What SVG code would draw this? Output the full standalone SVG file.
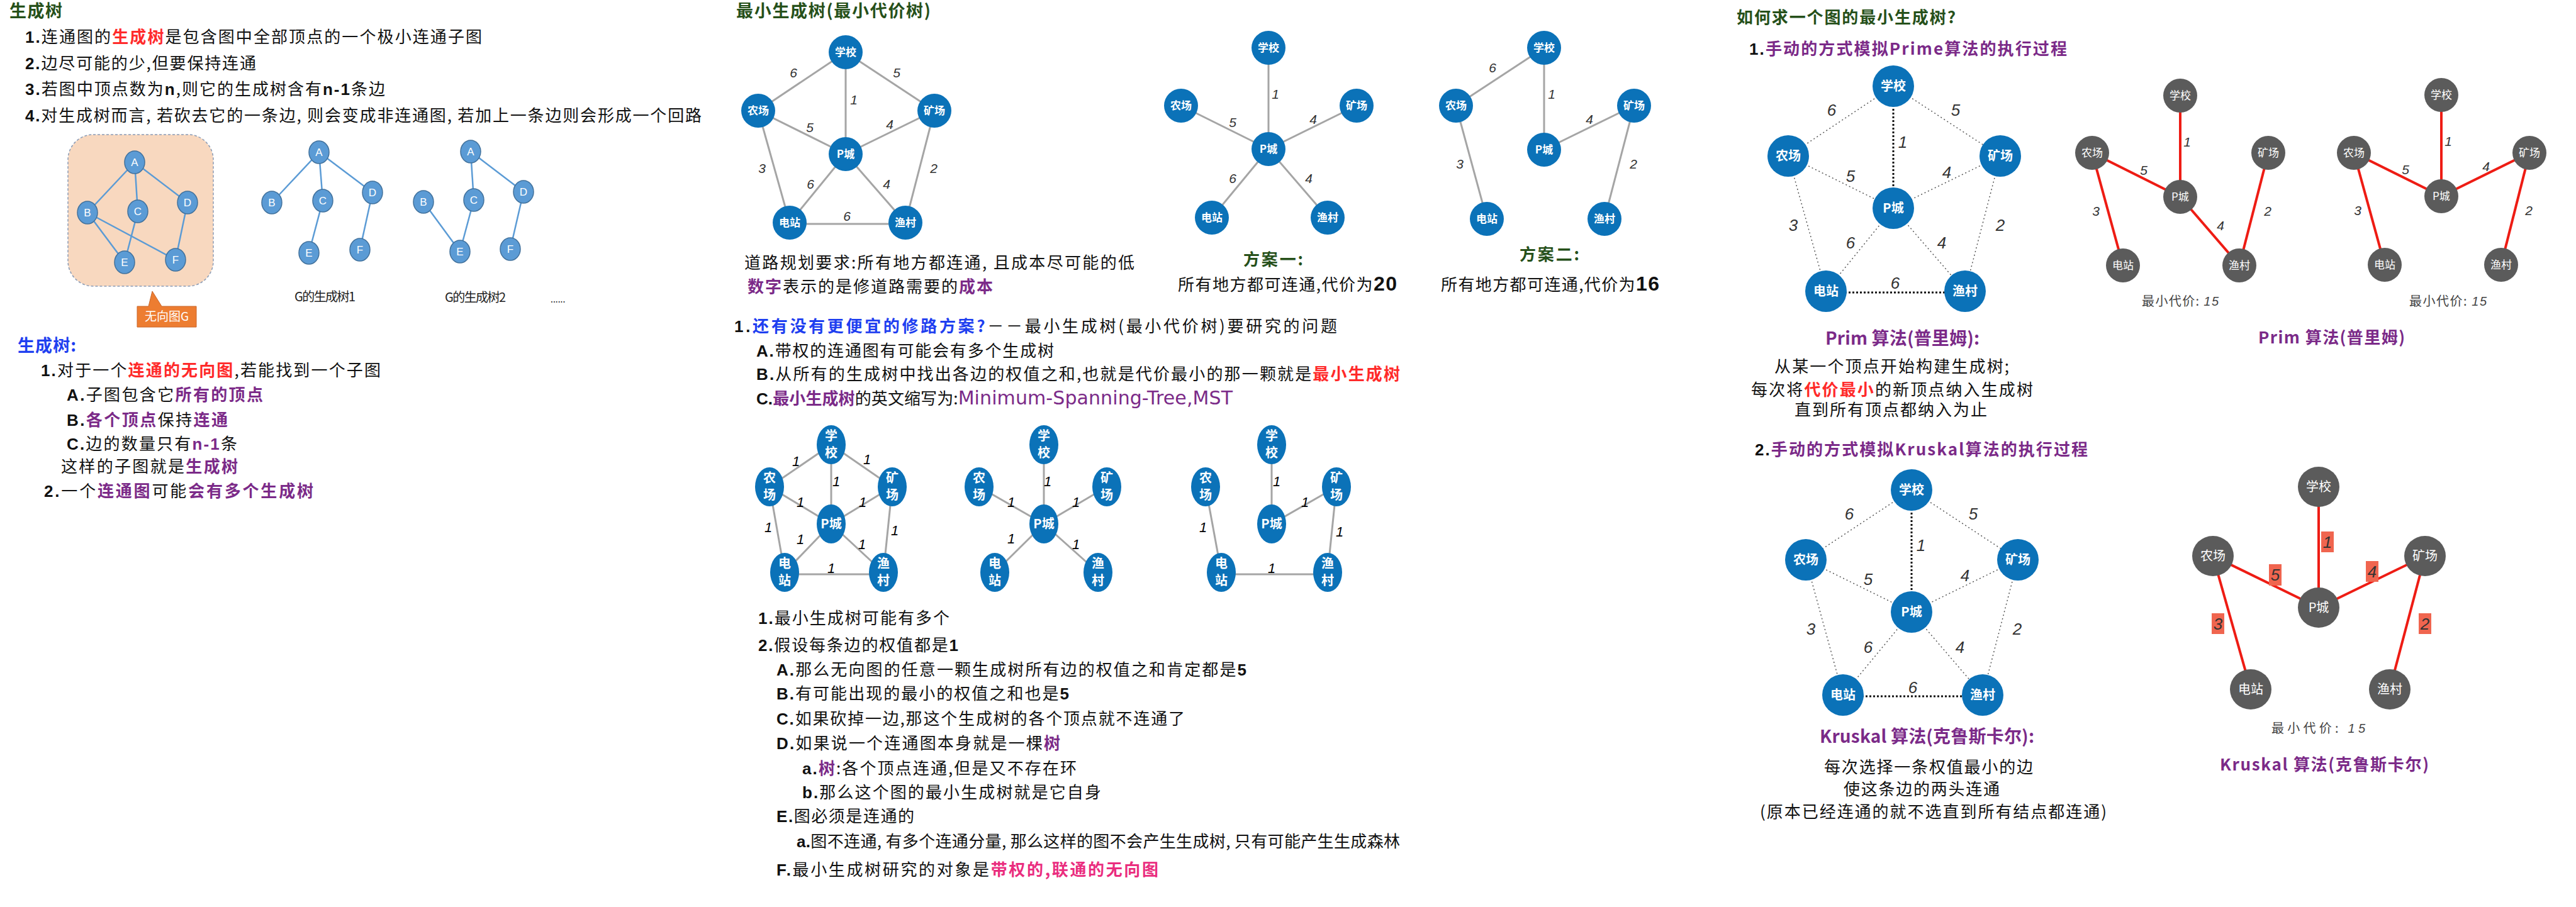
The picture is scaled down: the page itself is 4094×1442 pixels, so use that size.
<svg xmlns="http://www.w3.org/2000/svg" width="4094" height="1442" viewBox="0 0 4094 1442">
<style>
text{font-family:"Noto Sans CJK SC","Noto Sans",sans-serif}
.ln ellipse{fill:#5b9bd5;stroke:#41719c;stroke-width:1.5}
.ln text{fill:#fff;font-family:"Liberation Sans",sans-serif;font-size:17px;text-anchor:middle}
.le{stroke:#5b9bd5;stroke-width:2.5}
.bn circle,.bn ellipse{fill:#0b72b8}
.bn text{fill:#fff;font-weight:bold;text-anchor:middle;font-size:17px}
.bb text{font-size:20px}
.gn circle,.gn ellipse{fill:#5b5b5b}
.gn text{fill:#fff;text-anchor:middle;font-size:17px}
.gb text{font-size:20px}
.vn text{font-size:20px}
.ge{stroke:#a5a5a5;stroke-width:3}
.re{stroke:#ee1c14;stroke-width:4}
.de{stroke:#555;stroke-width:1.5;stroke-dasharray:2 4}
.dk{stroke:#111;stroke-width:3;stroke-dasharray:3 3}
.w{font-family:"Liberation Sans",sans-serif;font-style:italic;fill:#333;text-anchor:middle;font-size:21px}
.wl{font-size:26px}
.w1{fill:#000;font-size:22px}
.t{fill:#111;font-size:26px}
.gt{fill:#26501a;font-weight:bold}
.pu{fill:#7b2a88}
.rd{fill:#ff2a2a}
.bl{fill:#1f3ff0}
.pk{fill:#ea2d7e}
.n{font-family:"Liberation Sans",sans-serif;font-weight:bold}
.box{fill:#f0654f}
.cap{fill:#444;font-size:20px}
</style>

<!-- ================= LEFT ================= -->
<text class="gt" x="15" y="27" font-size="27" textLength="84">生成树</text>
<text class="t" x="40" y="68" font-size="29" textLength="726"><tspan class="n">1.</tspan>连通图的<tspan class="rd" font-weight="bold">生成树</tspan>是包含图中全部顶点的一个极小连通子图</text>
<text class="t" x="40" y="110" font-size="29" textLength="367"><tspan class="n">2.</tspan>边尽可能的少,但要保持连通</text>
<text class="t" x="40" y="151" font-size="29" textLength="572"><tspan class="n">3.</tspan>若图中顶点数为<tspan class="n">n</tspan>,则它的生成树含有<tspan class="n">n-1</tspan>条边</text>
<text class="t" x="40" y="193" font-size="29" textLength="1075"><tspan class="n">4.</tspan>对生成树而言, 若砍去它的一条边, 则会变成非连通图, 若加上一条边则会形成一个回路</text>

<rect x="108" y="214" width="231" height="241" rx="40" fill="#f8d8bf" stroke="#8a9bb5" stroke-width="1.5" stroke-dasharray="4 3"/>
<g id="callout-G">
<path d="M218,487 H236 L242,463 L257,487 H312 V520 H218 Z" fill="#ed7d31" stroke="#c9662a" stroke-width="1"/>
<text x="265" y="510" font-size="19" fill="#fff" text-anchor="middle">无向图G</text>
</g>

<g id="connectors-left">
<line class="le" x1="214" y1="258" x2="139" y2="338"/>
<line class="le" x1="214" y1="258" x2="219" y2="336"/>
<line class="le" x1="214" y1="258" x2="298" y2="322"/>
<line class="le" x1="139" y1="338" x2="198" y2="417"/>
<line class="le" x1="139" y1="338" x2="279" y2="413"/>
<line class="le" x1="219" y1="336" x2="198" y2="417"/>
<line class="le" x1="298" y1="322" x2="279" y2="413"/>
<line class="le" x1="507" y1="242" x2="432" y2="322"/>
<line class="le" x1="507" y1="242" x2="513" y2="319"/>
<line class="le" x1="507" y1="242" x2="592" y2="306"/>
<line class="le" x1="513" y1="319" x2="491" y2="402"/>
<line class="le" x1="592" y1="306" x2="572" y2="397"/>
<line class="le" x1="748" y1="241" x2="753" y2="318"/>
<line class="le" x1="748" y1="241" x2="832" y2="305"/>
<line class="le" x1="673" y1="321" x2="731" y2="400"/>
<line class="le" x1="753" y1="318" x2="731" y2="400"/>
<line class="le" x1="832" y1="305" x2="811" y2="396"/>
</g>
<g id="g-A" class="ln"><ellipse cx="214" cy="258" rx="16" ry="18"/><text x="214" y="264">A</text></g>
<g id="g-B" class="ln"><ellipse cx="139" cy="338" rx="16" ry="18"/><text x="139" y="344">B</text></g>
<g id="g-C" class="ln"><ellipse cx="219" cy="336" rx="16" ry="18"/><text x="219" y="342">C</text></g>
<g id="g-D" class="ln"><ellipse cx="298" cy="322" rx="16" ry="18"/><text x="298" y="328">D</text></g>
<g id="g-E" class="ln"><ellipse cx="198" cy="417" rx="16" ry="18"/><text x="198" y="423">E</text></g>
<g id="g-F" class="ln"><ellipse cx="279" cy="413" rx="16" ry="18"/><text x="279" y="419">F</text></g>
<g id="t1-A" class="ln"><ellipse cx="507" cy="242" rx="16" ry="18"/><text x="507" y="248">A</text></g>
<g id="t1-B" class="ln"><ellipse cx="432" cy="322" rx="16" ry="18"/><text x="432" y="328">B</text></g>
<g id="t1-C" class="ln"><ellipse cx="513" cy="319" rx="16" ry="18"/><text x="513" y="325">C</text></g>
<g id="t1-D" class="ln"><ellipse cx="592" cy="306" rx="16" ry="18"/><text x="592" y="312">D</text></g>
<g id="t1-E" class="ln"><ellipse cx="491" cy="402" rx="16" ry="18"/><text x="491" y="408">E</text></g>
<g id="t1-F" class="ln"><ellipse cx="572" cy="397" rx="16" ry="18"/><text x="572" y="403">F</text></g>
<g id="t2-A" class="ln"><ellipse cx="748" cy="241" rx="16" ry="18"/><text x="748" y="247">A</text></g>
<g id="t2-B" class="ln"><ellipse cx="673" cy="321" rx="16" ry="18"/><text x="673" y="327">B</text></g>
<g id="t2-C" class="ln"><ellipse cx="753" cy="318" rx="16" ry="18"/><text x="753" y="324">C</text></g>
<g id="t2-D" class="ln"><ellipse cx="832" cy="305" rx="16" ry="18"/><text x="832" y="311">D</text></g>
<g id="t2-E" class="ln"><ellipse cx="731" cy="400" rx="16" ry="18"/><text x="731" y="406">E</text></g>
<g id="t2-F" class="ln"><ellipse cx="811" cy="396" rx="16" ry="18"/><text x="811" y="402">F</text></g>
<text x="468" y="479" font-size="20" fill="#222" textLength="97">G的生成树1</text>
<text x="707" y="480" font-size="20" fill="#222" textLength="97">G的生成树2</text>
<text x="875" y="481" font-size="14" fill="#222">......</text>

<text class="bl" x="28" y="559" font-size="27" font-weight="bold" textLength="93">生成树:</text>
<text class="t" x="65" y="598" font-size="27" textLength="540"><tspan class="n">1.</tspan>对于一个<tspan class="rd" font-weight="bold">连通的无向图</tspan>,若能找到一个子图</text>
<text class="t" x="106" y="637" font-size="27" textLength="312"><tspan class="n">A.</tspan>子图包含它<tspan class="pu" font-weight="bold">所有的顶点</tspan></text>
<text class="t" x="106" y="677" font-size="27" textLength="256"><tspan class="n">B.</tspan><tspan class="pu" font-weight="bold">各个顶点</tspan>保持<tspan class="pu" font-weight="bold">连通</tspan></text>
<text class="t" x="106" y="715" font-size="27" textLength="271"><tspan class="n">C.</tspan>边的数量只有<tspan class="n pu">n-1</tspan>条</text>
<text class="t" x="97" y="751" font-size="27" textLength="281">这样的子图就是<tspan class="pu" font-weight="bold">生成树</tspan></text>
<text class="t" x="70" y="790" font-size="27" textLength="428"><tspan class="n">2.</tspan>一个<tspan class="pu" font-weight="bold">连通图</tspan>可能<tspan class="pu" font-weight="bold">会有多个生成树</tspan></text>

<!-- ================= MIDDLE ================= -->
<text class="gt" x="1170" y="27" font-size="27" textLength="309">最小生成树(最小代价树)</text>

<g id="connectors-mid">
<line class="ge" x1="1344" y1="83" x2="1205" y2="176"/>
<line class="ge" x1="1344" y1="83" x2="1485" y2="176"/>
<line class="ge" x1="1344" y1="83" x2="1344" y2="245"/>
<line class="ge" x1="1205" y1="176" x2="1344" y2="245"/>
<line class="ge" x1="1485" y1="176" x2="1344" y2="245"/>
<line class="ge" x1="1205" y1="176" x2="1255" y2="354"/>
<line class="ge" x1="1485" y1="176" x2="1439" y2="354"/>
<line class="ge" x1="1344" y1="245" x2="1255" y2="354"/>
<line class="ge" x1="1344" y1="245" x2="1439" y2="354"/>
<line class="ge" x1="1255" y1="356" x2="1439" y2="356"/>
<line class="ge" x1="2016" y1="76" x2="2016" y2="237"/>
<line class="ge" x1="1877" y1="168" x2="2016" y2="237"/>
<line class="ge" x1="2156" y1="168" x2="2016" y2="237"/>
<line class="ge" x1="2016" y1="237" x2="1926" y2="346"/>
<line class="ge" x1="2016" y1="237" x2="2110" y2="346"/>
<line class="ge" x1="2454" y1="76" x2="2314" y2="168"/>
<line class="ge" x1="2454" y1="76" x2="2454" y2="238"/>
<line class="ge" x1="2597" y1="168" x2="2454" y2="238"/>
<line class="ge" x1="2314" y1="168" x2="2363" y2="348"/>
<line class="ge" x1="2597" y1="168" x2="2550" y2="348"/>
<line class="ge" x1="1321" y1="707" x2="1223" y2="774"/>
<line class="ge" x1="1321" y1="707" x2="1418" y2="774"/>
<line class="ge" x1="1321" y1="707" x2="1321" y2="833"/>
<line class="ge" x1="1223" y1="774" x2="1321" y2="833"/>
<line class="ge" x1="1418" y1="774" x2="1321" y2="833"/>
<line class="ge" x1="1223" y1="774" x2="1247" y2="910"/>
<line class="ge" x1="1418" y1="774" x2="1404" y2="910"/>
<line class="ge" x1="1321" y1="833" x2="1247" y2="910"/>
<line class="ge" x1="1321" y1="833" x2="1404" y2="910"/>
<line class="ge" x1="1247" y1="913" x2="1404" y2="913"/>
<line class="ge" x1="1659" y1="707" x2="1659" y2="833"/>
<line class="ge" x1="1556" y1="774" x2="1659" y2="833"/>
<line class="ge" x1="1759" y1="774" x2="1659" y2="833"/>
<line class="ge" x1="1659" y1="833" x2="1581" y2="910"/>
<line class="ge" x1="1659" y1="833" x2="1745" y2="910"/>
<line class="ge" x1="2021" y1="707" x2="2021" y2="833"/>
<line class="ge" x1="2124" y1="774" x2="2021" y2="833"/>
<line class="ge" x1="1916" y1="774" x2="1941" y2="910"/>
<line class="ge" x1="2124" y1="774" x2="2110" y2="910"/>
<line class="ge" x1="1941" y1="913" x2="2110" y2="913"/>
</g>

<g id="m1-xuexiao" class="bn"><circle cx="1344" cy="83" r="27"/><text x="1344" y="89">学校</text></g>
<g id="m1-nongchang" class="bn"><circle cx="1205" cy="176" r="27"/><text x="1205" y="182">农场</text></g>
<g id="m1-kuangchang" class="bn"><circle cx="1485" cy="176" r="27"/><text x="1485" y="182">矿场</text></g>
<g id="m1-pcheng" class="bn"><circle cx="1344" cy="245" r="27"/><text x="1344" y="251">P城</text></g>
<g id="m1-dianzhan" class="bn"><circle cx="1255" cy="354" r="27"/><text x="1255" y="360">电站</text></g>
<g id="m1-yucun" class="bn"><circle cx="1439" cy="354" r="27"/><text x="1439" y="360">渔村</text></g>
<text class="w" x="1261" y="123">6</text>
<text class="w" x="1425" y="123">5</text>
<text class="w" x="1357" y="166">1</text>
<text class="w" x="1287" y="210">5</text>
<text class="w" x="1414" y="205">4</text>
<text class="w" x="1211" y="275">3</text>
<text class="w" x="1484" y="275">2</text>
<text class="w" x="1288" y="300">6</text>
<text class="w" x="1409" y="300">4</text>
<text class="w" x="1346" y="351">6</text>
<text class="t" x="1183" y="427" textLength="620">道路规划要求:所有地方都连通, 且成本尽可能的低</text>
<text class="t" x="1188" y="465" textLength="390"><tspan class="pu" font-weight="bold">数字</tspan>表示的是修道路需要的<tspan class="pu" font-weight="bold">成本</tspan></text>

<g id="p1-xuexiao" class="bn"><circle cx="2016" cy="76" r="27"/><text x="2016" y="82">学校</text></g>
<g id="p1-nongchang" class="bn"><circle cx="1877" cy="168" r="27"/><text x="1877" y="174">农场</text></g>
<g id="p1-kuangchang" class="bn"><circle cx="2156" cy="168" r="27"/><text x="2156" y="174">矿场</text></g>
<g id="p1-pcheng" class="bn"><circle cx="2016" cy="237" r="27"/><text x="2016" y="243">P城</text></g>
<g id="p1-dianzhan" class="bn"><circle cx="1926" cy="346" r="27"/><text x="1926" y="352">电站</text></g>
<g id="p1-yucun" class="bn"><circle cx="2110" cy="346" r="27"/><text x="2110" y="352">渔村</text></g>
<text class="w" x="2027" y="157">1</text>
<text class="w" x="1959" y="202">5</text>
<text class="w" x="2087" y="197">4</text>
<text class="w" x="1959" y="291">6</text>
<text class="w" x="2080" y="291">4</text>
<text class="gt" x="1976" y="422" font-size="26" textLength="95">方案一:</text>
<text class="t" x="1872" y="462" textLength="348">所有地方都可连通,代价为<tspan class="n" font-size="32">20</tspan></text>

<g id="p2-xuexiao" class="bn"><circle cx="2454" cy="76" r="27"/><text x="2454" y="82">学校</text></g>
<g id="p2-nongchang" class="bn"><circle cx="2314" cy="168" r="27"/><text x="2314" y="174">农场</text></g>
<g id="p2-kuangchang" class="bn"><circle cx="2597" cy="168" r="27"/><text x="2597" y="174">矿场</text></g>
<g id="p2-pcheng" class="bn"><circle cx="2454" cy="238" r="27"/><text x="2454" y="244">P城</text></g>
<g id="p2-dianzhan" class="bn"><circle cx="2363" cy="348" r="27"/><text x="2363" y="354">电站</text></g>
<g id="p2-yucun" class="bn"><circle cx="2550" cy="348" r="27"/><text x="2550" y="354">渔村</text></g>
<text class="w" x="2372" y="115">6</text>
<text class="w" x="2466" y="157">1</text>
<text class="w" x="2526" y="197">4</text>
<text class="w" x="2320" y="268">3</text>
<text class="w" x="2596" y="268">2</text>
<text class="gt" x="2415" y="414" font-size="26" textLength="95">方案二:</text>
<text class="t" x="2290" y="462" textLength="347">所有地方都可连通,代价为<tspan class="n" font-size="32">16</tspan></text>

<text class="t" x="1167" y="528" textLength="958"><tspan class="n">1.</tspan><tspan class="bl" font-weight="bold">还有没有更便宜的修路方案?</tspan>－－最小生成树(最小代价树)要研究的问题</text>
<text class="t" x="1202" y="567" textLength="473"><tspan class="n">A.</tspan>带权的连通图有可能会有多个生成树</text>
<text class="t" x="1202" y="604" textLength="1023"><tspan class="n">B.</tspan>从所有的生成树中找出各边的权值之和,也就是代价最小的那一颗就是<tspan class="rd" font-weight="bold">最小生成树</tspan></text>
<text class="t" x="1202" y="643" textLength="757"><tspan class="n">C.</tspan><tspan class="pu" font-weight="bold">最小生成树</tspan>的英文缩写为:<tspan class="pu" font-family="DejaVu Sans" font-size="30">Minimum-Spanning-Tree,MST</tspan></text>

<g id="a-xuexiao" class="bn vn"><ellipse cx="1321" cy="707" rx="23" ry="31"/><text x="1321" y="700">学<tspan x="1321" dy="27">校</tspan></text></g>
<g id="a-nongchang" class="bn vn"><ellipse cx="1223" cy="774" rx="23" ry="31"/><text x="1223" y="767">农<tspan x="1223" dy="27">场</tspan></text></g>
<g id="a-kuangchang" class="bn vn"><ellipse cx="1418" cy="774" rx="23" ry="31"/><text x="1418" y="767">矿<tspan x="1418" dy="27">场</tspan></text></g>
<g id="a-pcheng" class="bn vn"><ellipse cx="1321" cy="833" rx="23" ry="31"/><text x="1321" y="840">P城</text></g>
<g id="a-dianzhan" class="bn vn"><ellipse cx="1247" cy="910" rx="23" ry="31"/><text x="1247" y="903">电<tspan x="1247" dy="27">站</tspan></text></g>
<g id="a-yucun" class="bn vn"><ellipse cx="1404" cy="910" rx="23" ry="31"/><text x="1404" y="903">渔<tspan x="1404" dy="27">村</tspan></text></g>
<text class="w w1" x="1265" y="741">1</text>
<text class="w w1" x="1378" y="738">1</text>
<text class="w w1" x="1329" y="773">1</text>
<text class="w w1" x="1272" y="806">1</text>
<text class="w w1" x="1371" y="806">1</text>
<text class="w w1" x="1221" y="846">1</text>
<text class="w w1" x="1422" y="851">1</text>
<text class="w w1" x="1272" y="865">1</text>
<text class="w w1" x="1370" y="873">1</text>
<text class="w w1" x="1321" y="911">1</text>

<g id="b-xuexiao" class="bn vn"><ellipse cx="1659" cy="707" rx="23" ry="31"/><text x="1659" y="700">学<tspan x="1659" dy="27">校</tspan></text></g>
<g id="b-nongchang" class="bn vn"><ellipse cx="1556" cy="774" rx="23" ry="31"/><text x="1556" y="767">农<tspan x="1556" dy="27">场</tspan></text></g>
<g id="b-kuangchang" class="bn vn"><ellipse cx="1759" cy="774" rx="23" ry="31"/><text x="1759" y="767">矿<tspan x="1759" dy="27">场</tspan></text></g>
<g id="b-pcheng" class="bn vn"><ellipse cx="1659" cy="833" rx="23" ry="31"/><text x="1659" y="840">P城</text></g>
<g id="b-dianzhan" class="bn vn"><ellipse cx="1581" cy="910" rx="23" ry="31"/><text x="1581" y="903">电<tspan x="1581" dy="27">站</tspan></text></g>
<g id="b-yucun" class="bn vn"><ellipse cx="1745" cy="910" rx="23" ry="31"/><text x="1745" y="903">渔<tspan x="1745" dy="27">村</tspan></text></g>
<text class="w w1" x="1665" y="773">1</text>
<text class="w w1" x="1607" y="806">1</text>
<text class="w w1" x="1710" y="806">1</text>
<text class="w w1" x="1607" y="864">1</text>
<text class="w w1" x="1710" y="873">1</text>

<g id="c-xuexiao" class="bn vn"><ellipse cx="2021" cy="707" rx="23" ry="31"/><text x="2021" y="700">学<tspan x="2021" dy="27">校</tspan></text></g>
<g id="c-nongchang" class="bn vn"><ellipse cx="1916" cy="774" rx="23" ry="31"/><text x="1916" y="767">农<tspan x="1916" dy="27">场</tspan></text></g>
<g id="c-kuangchang" class="bn vn"><ellipse cx="2124" cy="774" rx="23" ry="31"/><text x="2124" y="767">矿<tspan x="2124" dy="27">场</tspan></text></g>
<g id="c-pcheng" class="bn vn"><ellipse cx="2021" cy="833" rx="23" ry="31"/><text x="2021" y="840">P城</text></g>
<g id="c-dianzhan" class="bn vn"><ellipse cx="1941" cy="910" rx="23" ry="31"/><text x="1941" y="903">电<tspan x="1941" dy="27">站</tspan></text></g>
<g id="c-yucun" class="bn vn"><ellipse cx="2110" cy="910" rx="23" ry="31"/><text x="2110" y="903">渔<tspan x="2110" dy="27">村</tspan></text></g>
<text class="w w1" x="2029" y="773">1</text>
<text class="w w1" x="2074" y="806">1</text>
<text class="w w1" x="1912" y="846">1</text>
<text class="w w1" x="2129" y="853">1</text>
<text class="w w1" x="2021" y="911">1</text>

<text class="t" x="1205" y="992" textLength="304"><tspan class="n">1.</tspan>最小生成树可能有多个</text>
<text class="t" x="1205" y="1035" textLength="318"><tspan class="n">2.</tspan>假设每条边的权值都是<tspan class="n">1</tspan></text>
<text class="t" x="1234" y="1074" textLength="747"><tspan class="n">A.</tspan>那么无向图的任意一颗生成树所有边的权值之和肯定都是<tspan class="n">5</tspan></text>
<text class="t" x="1234" y="1112" textLength="465"><tspan class="n">B.</tspan>有可能出现的最小的权值之和也是<tspan class="n">5</tspan></text>
<text class="t" x="1234" y="1152" textLength="649"><tspan class="n">C.</tspan>如果砍掉一边,那这个生成树的各个顶点就不连通了</text>
<text class="t" x="1234" y="1191" textLength="451"><tspan class="n">D.</tspan>如果说一个连通图本身就是一棵<tspan class="pu" font-weight="bold">树</tspan></text>
<text class="t" x="1275" y="1231" textLength="436"><tspan class="n">a.</tspan><tspan class="pu" font-weight="bold">树</tspan>:各个顶点连通,但是又不存在环</text>
<text class="t" x="1275" y="1269" textLength="475"><tspan class="n">b.</tspan>那么这个图的最小生成树就是它自身</text>
<text class="t" x="1234" y="1307" textLength="219"><tspan class="n">E.</tspan>图必须是连通的</text>
<text class="t" x="1266" y="1347" textLength="959"><tspan class="n">a.</tspan>图不连通, 有多个连通分量, 那么这样的图不会产生生成树, 只有可能产生生成森林</text>
<text class="t" x="1234" y="1392" textLength="607"><tspan class="n">F.</tspan>最小生成树研究的对象是<tspan class="pk" font-weight="bold">带权的,联通的无向图</tspan></text>

<!-- ================= RIGHT ================= -->
<text class="gt" x="2760" y="37" font-size="26" textLength="348">如何求一个图的最小生成树?</text>
<text class="pu" x="2780" y="87" font-size="26" font-weight="bold" textLength="505"><tspan class="n" fill="#111">1.</tspan>手动的方式模拟Prime算法的执行过程</text>

<g id="connectors-right">
<line class="de" x1="3009" y1="137" x2="2842" y2="248"/>
<line class="de" x1="3009" y1="137" x2="3179" y2="248"/>
<line class="dk" x1="3009" y1="137" x2="3009" y2="331"/>
<line class="de" x1="2842" y1="248" x2="3009" y2="331"/>
<line class="de" x1="3179" y1="248" x2="3009" y2="331"/>
<line class="de" x1="2842" y1="248" x2="2902" y2="463"/>
<line class="de" x1="3179" y1="248" x2="3123" y2="463"/>
<line class="de" x1="3009" y1="331" x2="2902" y2="463"/>
<line class="de" x1="3009" y1="331" x2="3123" y2="463"/>
<line class="dk" x1="2902" y1="465" x2="3123" y2="465"/>
<line class="re" x1="3465" y1="152" x2="3465" y2="313"/>
<line class="re" x1="3325" y1="243" x2="3465" y2="313"/>
<line class="re" x1="3325" y1="243" x2="3374" y2="422"/>
<line class="re" x1="3465" y1="313" x2="3559" y2="422"/>
<line class="re" x1="3605" y1="243" x2="3559" y2="422"/>
<line class="re" x1="3880" y1="151" x2="3880" y2="312"/>
<line class="re" x1="3741" y1="243" x2="3880" y2="312"/>
<line class="re" x1="4020" y1="243" x2="3880" y2="312"/>
<line class="re" x1="3741" y1="243" x2="3790" y2="421"/>
<line class="re" x1="4020" y1="243" x2="3975" y2="421"/>
<line class="de" x1="3038" y1="779" x2="2870" y2="890"/>
<line class="de" x1="3038" y1="779" x2="3207" y2="890"/>
<line class="dk" x1="3038" y1="779" x2="3038" y2="973"/>
<line class="de" x1="2870" y1="890" x2="3038" y2="973"/>
<line class="de" x1="3207" y1="890" x2="3038" y2="973"/>
<line class="de" x1="2870" y1="890" x2="2929" y2="1105"/>
<line class="de" x1="3207" y1="890" x2="3151" y2="1105"/>
<line class="de" x1="3038" y1="973" x2="2929" y2="1105"/>
<line class="de" x1="3038" y1="973" x2="3151" y2="1105"/>
<line class="dk" x1="2929" y1="1107" x2="3151" y2="1107"/>
<line class="re" x1="3685" y1="774" x2="3685" y2="966"/>
<line class="re" x1="3517" y1="884" x2="3685" y2="966"/>
<line class="re" x1="3854" y1="884" x2="3685" y2="966"/>
<line class="re" x1="3517" y1="884" x2="3577" y2="1096"/>
<line class="re" x1="3854" y1="884" x2="3798" y2="1096"/>
</g>

<g id="pr-xuexiao" class="bn bb"><circle cx="3009" cy="137" r="33"/><text x="3009" y="144">学校</text></g>
<g id="pr-nongchang" class="bn bb"><circle cx="2842" cy="248" r="33"/><text x="2842" y="255">农场</text></g>
<g id="pr-kuangchang" class="bn bb"><circle cx="3179" cy="248" r="33"/><text x="3179" y="255">矿场</text></g>
<g id="pr-pcheng" class="bn bb"><circle cx="3009" cy="331" r="33"/><text x="3009" y="338">P城</text></g>
<g id="pr-dianzhan" class="bn bb"><circle cx="2902" cy="463" r="33"/><text x="2902" y="470">电站</text></g>
<g id="pr-yucun" class="bn bb"><circle cx="3123" cy="463" r="33"/><text x="3123" y="470">渔村</text></g>
<text class="w wl" x="2911" y="184">6</text>
<text class="w wl" x="3108" y="184">5</text>
<text class="w wl" x="3024" y="235">1</text>
<text class="w wl" x="2941" y="289">5</text>
<text class="w wl" x="3094" y="283">4</text>
<text class="w wl" x="2850" y="367">3</text>
<text class="w wl" x="3179" y="367">2</text>
<text class="w wl" x="2941" y="395">6</text>
<text class="w wl" x="3086" y="395">4</text>
<text class="w wl" x="3012" y="459">6</text>
<text class="pu" x="2901" y="548" font-size="28" font-weight="bold" textLength="245">Prim 算法(普里姆):</text>
<text class="t" x="2820" y="592" font-size="24" textLength="373">从某一个顶点开始构建生成树;</text>
<text class="t" x="2783" y="629" font-size="24" textLength="448">每次将<tspan class="rd" font-weight="bold">代价最小</tspan>的新顶点纳入生成树</text>
<text class="t" x="2852" y="661" font-size="24" textLength="306">直到所有顶点都纳入为止</text>

<g id="r1-xuexiao" class="gn"><circle cx="3465" cy="152" r="27"/><text x="3465" y="158">学校</text></g>
<g id="r1-nongchang" class="gn"><circle cx="3325" cy="243" r="27"/><text x="3325" y="249">农场</text></g>
<g id="r1-kuangchang" class="gn"><circle cx="3605" cy="243" r="27"/><text x="3605" y="249">矿场</text></g>
<g id="r1-pcheng" class="gn"><circle cx="3465" cy="313" r="27"/><text x="3465" y="319">P城</text></g>
<g id="r1-dianzhan" class="gn"><circle cx="3374" cy="422" r="27"/><text x="3374" y="428">电站</text></g>
<g id="r1-yucun" class="gn"><circle cx="3559" cy="422" r="27"/><text x="3559" y="428">渔村</text></g>
<text class="w" x="3476" y="233">1</text>
<text class="w" x="3407" y="278">5</text>
<text class="w" x="3331" y="343">3</text>
<text class="w" x="3529" y="366">4</text>
<text class="w" x="3604" y="343">2</text>
<text class="cap" x="3404" y="486" textLength="122">最小代价: <tspan font-family="Liberation Sans" font-style="italic">15</tspan></text>

<g id="r2-xuexiao" class="gn"><circle cx="3880" cy="151" r="27"/><text x="3880" y="157">学校</text></g>
<g id="r2-nongchang" class="gn"><circle cx="3741" cy="243" r="27"/><text x="3741" y="249">农场</text></g>
<g id="r2-kuangchang" class="gn"><circle cx="4020" cy="243" r="27"/><text x="4020" y="249">矿场</text></g>
<g id="r2-pcheng" class="gn"><circle cx="3880" cy="312" r="27"/><text x="3880" y="318">P城</text></g>
<g id="r2-dianzhan" class="gn"><circle cx="3790" cy="421" r="27"/><text x="3790" y="427">电站</text></g>
<g id="r2-yucun" class="gn"><circle cx="3975" cy="421" r="27"/><text x="3975" y="427">渔村</text></g>
<text class="w" x="3891" y="232">1</text>
<text class="w" x="3823" y="277">5</text>
<text class="w" x="3951" y="272">4</text>
<text class="w" x="3747" y="342">3</text>
<text class="w" x="4019" y="342">2</text>
<text class="cap" x="3829" y="486" textLength="123">最小代价: <tspan font-family="Liberation Sans" font-style="italic">15</tspan></text>
<text class="pu" x="3589" y="546" font-size="26" font-weight="bold" textLength="233">Prim 算法(普里姆)</text>

<text class="pu" x="2789" y="724" font-size="26" font-weight="bold" textLength="529"><tspan class="n" fill="#111">2.</tspan>手动的方式模拟Kruskal算法的执行过程</text>

<g id="kr-xuexiao" class="bn bb"><circle cx="3038" cy="779" r="33"/><text x="3038" y="786">学校</text></g>
<g id="kr-nongchang" class="bn bb"><circle cx="2870" cy="890" r="33"/><text x="2870" y="897">农场</text></g>
<g id="kr-kuangchang" class="bn bb"><circle cx="3207" cy="890" r="33"/><text x="3207" y="897">矿场</text></g>
<g id="kr-pcheng" class="bn bb"><circle cx="3038" cy="973" r="33"/><text x="3038" y="980">P城</text></g>
<g id="kr-dianzhan" class="bn bb"><circle cx="2929" cy="1105" r="33"/><text x="2929" y="1112">电站</text></g>
<g id="kr-yucun" class="bn bb"><circle cx="3151" cy="1105" r="33"/><text x="3151" y="1112">渔村</text></g>
<text class="w wl" x="2939" y="826">6</text>
<text class="w wl" x="3136" y="826">5</text>
<text class="w wl" x="3053" y="876">1</text>
<text class="w wl" x="2969" y="930">5</text>
<text class="w wl" x="3123" y="924">4</text>
<text class="w wl" x="2878" y="1009">3</text>
<text class="w wl" x="3206" y="1009">2</text>
<text class="w wl" x="2969" y="1038">6</text>
<text class="w wl" x="3115" y="1038">4</text>
<text class="w wl" x="3040" y="1102">6</text>
<text class="pu" x="2892" y="1181" font-size="28" font-weight="bold" textLength="341">Kruskal 算法(克鲁斯卡尔):</text>
<text class="t" x="2899" y="1229" font-size="24" textLength="332">每次选择一条权值最小的边</text>
<text class="t" x="2930" y="1264" font-size="24" textLength="248">使这条边的两头连通</text>
<text class="t" x="2797" y="1300" font-size="24" textLength="551">(原本已经连通的就不选直到所有结点都连通)</text>

<g id="kr-labels">
<rect class="box" x="3689" y="845" width="20" height="33"/><text class="w wl" x="3699" y="871" fill="#111">1</text>
<rect class="box" x="3606" y="897" width="20" height="34"/><text class="w wl" x="3616" y="923" fill="#111">5</text>
<rect class="box" x="3760" y="892" width="20" height="33"/><text class="w wl" x="3770" y="918" fill="#111">4</text>
<rect class="box" x="3515" y="975" width="20" height="33"/><text class="w wl" x="3525" y="1001" fill="#111">3</text>
<rect class="box" x="3844" y="975" width="20" height="33"/><text class="w wl" x="3854" y="1001" fill="#111">2</text>
</g>
<g id="kres-xuexiao" class="gn gb"><ellipse cx="3685" cy="774" rx="33" ry="32"/><text x="3685" y="781">学校</text></g>
<g id="kres-nongchang" class="gn gb"><ellipse cx="3517" cy="884" rx="33" ry="32"/><text x="3517" y="891">农场</text></g>
<g id="kres-kuangchang" class="gn gb"><ellipse cx="3854" cy="884" rx="33" ry="32"/><text x="3854" y="891">矿场</text></g>
<g id="kres-pcheng" class="gn gb"><ellipse cx="3685" cy="966" rx="33" ry="32"/><text x="3685" y="973">P城</text></g>
<g id="kres-dianzhan" class="gn gb"><ellipse cx="3577" cy="1096" rx="33" ry="32"/><text x="3577" y="1103">电站</text></g>
<g id="kres-yucun" class="gn gb"><ellipse cx="3798" cy="1096" rx="33" ry="32"/><text x="3798" y="1103">渔村</text></g>
<text class="cap" x="3610" y="1165" font-size="22" textLength="149">最小代价: <tspan font-family="Liberation Sans" font-style="italic">15</tspan></text>
<text class="pu" x="3528" y="1225" font-size="26" font-weight="bold" textLength="332">Kruskal 算法(克鲁斯卡尔)</text>
</svg>
